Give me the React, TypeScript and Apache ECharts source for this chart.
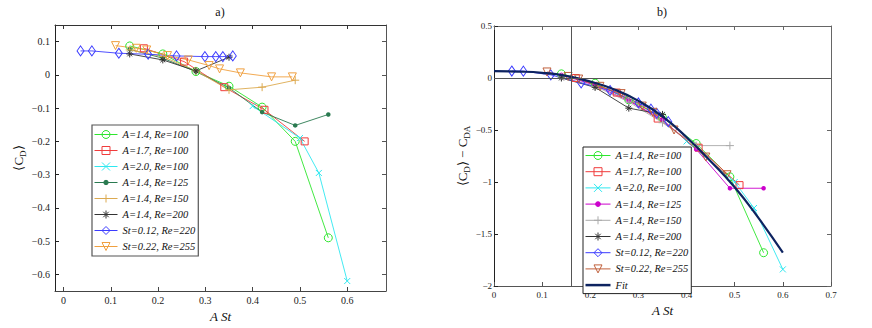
import React, { useEffect, useRef } from 'react';
import * as echarts from 'echarts';

// ---------- tick labels ----------
const leftXTicks = [0, 0.1, 0.2, 0.3, 0.4, 0.5, 0.6];
const leftYTicks = [-0.6, -0.5, -0.4, -0.3, -0.2, -0.1, 0, 0.1];

// ---------- legend names ----------
const names = [
  'A=1.4, Re=100',
  'A=1.7, Re=100',
  'A=2.0, Re=100',
  'A=1.4, Re=125',
  'A=1.4, Re=150',
  'A=1.4, Re=200',
  'St=0.12, Re=220',
  'St=0.22, Re=255',
];
const fitName = 'Fit';

// ---------- panel a) : <C_D> vs A St ----------
const a14re100L = [[0.14, 0.087], [0.21, 0.063], [0.28, 0.01], [0.35, -0.034], [0.42, -0.097], [0.49, -0.2], [0.56, -0.49]];
const a17re100L = [[0.17, 0.08], [0.255, 0.04], [0.34, -0.037], [0.425, -0.105], [0.51, -0.2]];
const a20re100L = [[0.4, -0.094], [0.5, -0.19], [0.54, -0.295], [0.6, -0.62]];
const a14re125L = [[0.14, 0.077], [0.21, 0.05], [0.28, 0.01], [0.35, -0.039], [0.42, -0.112], [0.49, -0.152], [0.56, -0.119]];
const a14re150L = [[0.14, 0.075], [0.21, 0.055], [0.28, 0.012], [0.35, -0.045], [0.42, -0.037], [0.49, -0.016]];
const a14re200L = [[0.14, 0.063], [0.21, 0.045], [0.28, 0.012], [0.35, 0.053]];
const st12re220L = [[0.036, 0.072], [0.06, 0.072], [0.117, 0.065], [0.179, 0.062], [0.239, 0.057], [0.299, 0.055], [0.322, 0.055], [0.337, 0.055], [0.358, 0.057]];
const st22re255L = [[0.11, 0.088], [0.154, 0.08], [0.176, 0.075], [0.22, 0.058], [0.264, 0.045], [0.308, 0.028], [0.33, 0.018], [0.374, 0.006], [0.44, -0.006], [0.484, -0.006]];

// ---------- panel b) : <C_D> - C_DA vs A St ----------
const a14re100R = [[0.14, 0.04], [0.21, -0.05], [0.28, -0.21], [0.35, -0.38], [0.42, -0.63], [0.49, -0.95], [0.56, -1.68]];
const a17re100R = [[0.17, 0.0], [0.255, -0.14], [0.34, -0.39], [0.425, -0.67], [0.51, -1.03]];
const a20re100R = [[0.4, -0.61], [0.5, -1.0], [0.54, -1.25], [0.6, -1.84]];
const a14re125R = [[0.14, 0.03], [0.21, -0.07], [0.28, -0.22], [0.35, -0.4], [0.42, -0.685], [0.49, -1.06], [0.56, -1.06]];
const a14re150R = [[0.14, 0.01], [0.21, -0.08], [0.28, -0.23], [0.35, -0.43], [0.42, -0.65], [0.49, -0.65]];
const a14re200R = [[0.14, 0.0], [0.21, -0.09], [0.28, -0.29], [0.35, -0.35]];
const st12re220R = [[0.037, 0.067], [0.061, 0.066], [0.118, 0.03], [0.181, -0.048], [0.241, -0.12], [0.3, -0.24], [0.326, -0.3], [0.338, -0.34], [0.362, -0.42]];
const st22re255R = [[0.11, 0.058], [0.154, 0.015], [0.176, -0.01], [0.22, -0.08], [0.264, -0.15], [0.308, -0.27], [0.33, -0.33], [0.374, -0.5], [0.44, -0.76], [0.484, -0.93]];
const fitR = [[0, 0.066], [0.05, 0.062], [0.1, 0.05], [0.15, 0.02], [0.2, -0.035], [0.25, -0.11], [0.3, -0.22], [0.35, -0.37], [0.4, -0.57], [0.45, -0.8], [0.5, -1.05], [0.55, -1.35], [0.6, -1.68]];

const leftSets = [a14re100L, a17re100L, a20re100L, a14re125L, a14re150L, a14re200L, st12re220L, st22re255L];
const rightSets = [a14re100R, a17re100R, a20re100R, a14re125R, a14re150R, a14re200R, st12re220R, st22re255R];

// ---------- styles ----------
const CROSS = 'path://M0,0L10,10M10,0L0,10';
const PLUS = 'path://M5,0L5,10M0,5L10,5';
const STAR = 'path://M5,0L5,10M0,5L10,5M1.6,1.6L8.4,8.4M8.4,1.6L1.6,8.4';
const TRI = 'path://M0,0L10,0L5,8.66Z';
const DOT_LEGEND = 'path://M0,5L23,5M13.7,5A2.2,2.2,0,1,1,9.3,5A2.2,2.2,0,1,1,13.7,5Z';
const FIT_LEGEND = 'path://M0,0L26,0L26,2.6L0,2.6Z';

const markers: any[] = [
  { symbol: 'circle', size: 8, filled: false },
  { symbol: 'rect', size: 7, filled: false },
  { symbol: CROSS, size: 6, filled: false },
  { symbol: 'circle', size: 4.5, filled: true },
  { symbol: PLUS, size: 8, filled: false },
  { symbol: STAR, size: 7, filled: false },
  { symbol: 'diamond', size: [7, 10], filled: false },
  { symbol: TRI, size: 8, filled: false },
];
const leftColors = ['#2ee62e', '#f03c3c', '#2ee8f0', '#2a7a50', '#dcaa50', '#333333', '#3c3cff', '#f0a040'];
const rightColors = ['#2ee62e', '#f03c3c', '#2ee8f0', '#cc00cc', '#aaaaaa', '#333333', '#3c3cff', '#c0603c'];
const fitColor = '#0d2360';

const SERIF = 'Liberation Serif';
const ZW = '\u200b';

const fmt = (v: number) => String(parseFloat(v.toFixed(2))).replace('-', '\u2212');

function mk(name: string, data: number[][], color: string, m: any, xi: number, yi: number) {
  return {
    type: 'line',
    name,
    data,
    xAxisIndex: xi,
    yAxisIndex: yi,
    symbol: m.symbol,
    symbolSize: m.size,
    lineStyle: { color, width: 0.9 },
    itemStyle: {
      color: m.filled ? color : 'rgba(255,255,255,0)',
      borderColor: color,
      borderWidth: m.filled ? 0 : 1,
    },
    emphasis: { disabled: true },
    z: 3,
  };
}

function axisX(grid: number, min: number, max: number, pos: string, ticks: any, showLabel: boolean, lineColor: string, fontSize: number) {
  const tickOpt: any = { show: true, inside: true, length: 4, lineStyle: { color: lineColor } };
  const labelOpt: any = { show: showLabel, margin: 4, fontFamily: SERIF, fontSize, color: '#222', formatter: fmt };
  const o: any = {
    gridIndex: grid,
    type: 'value',
    min,
    max,
    position: pos,
    axisLine: { show: true, onZero: false, lineStyle: { color: lineColor, width: 1 } },
    axisTick: tickOpt,
    axisLabel: labelOpt,
    splitLine: { show: false },
  };
  if (Array.isArray(ticks)) {
    tickOpt.customValues = ticks;
    labelOpt.customValues = ticks;
  } else {
    o.interval = ticks;
  }
  if (showLabel) {
    o.name = 'A St';
    o.nameLocation = 'middle';
    o.nameGap = 16;
    o.nameTextStyle = { fontFamily: SERIF, fontStyle: 'italic', fontSize: 13, color: '#111' };
  }
  return o;
}

function axisY(grid: number, min: number, max: number, pos: string, ticks: any, showLabel: boolean, lineColor: string, fontSize: number, margin: number, name?: string, nameGap?: number) {
  const tickOpt: any = { show: true, inside: true, length: 4, lineStyle: { color: lineColor } };
  const labelOpt: any = { show: showLabel, margin, fontFamily: SERIF, fontSize, color: '#222', formatter: fmt };
  const o: any = {
    gridIndex: grid,
    type: 'value',
    min,
    max,
    position: pos,
    axisLine: { show: true, onZero: false, lineStyle: { color: lineColor, width: 1 } },
    axisTick: tickOpt,
    axisLabel: labelOpt,
    splitLine: { show: false },
  };
  if (Array.isArray(ticks)) {
    tickOpt.customValues = ticks;
    labelOpt.customValues = ticks;
  } else {
    o.interval = ticks;
  }
  if (name) {
    o.name = name;
    o.nameLocation = 'middle';
    o.nameGap = nameGap;
    o.nameRotate = 90;
    o.nameTextStyle = {
      rich: {
        a: { fontFamily: SERIF, fontSize: 13, lineHeight: 18, color: '#111' },
        s: { fontFamily: SERIF, fontSize: 9, lineHeight: 10, verticalAlign: 'bottom', color: '#111' },
      },
    };
  }
  return o;
}

const legendBase = {
  orient: 'vertical',
  itemWidth: 23,
  itemHeight: 10,
  itemGap: 5,
  backgroundColor: '#ffffff',
  selectedMode: false,
  textStyle: { fontFamily: SERIF, fontStyle: 'italic', fontSize: 10.5, color: '#111' },
  itemStyle: { borderWidth: 1 },
  lineStyle: { width: 1 },
  borderRadius: 0,
};

export default function App() {
  const ref = useRef<HTMLDivElement>(null);
  useEffect(() => {
    if (!ref.current) return;
    const chart = echarts.init(ref.current, undefined, { renderer: 'svg' });
    const rightNames = names.map((n) => n + ZW);

    const series: any[] = [];
    leftSets.forEach((d, i) => series.push(mk(names[i], d, leftColors[i], markers[i], 0, 0)));
    rightSets.forEach((d, i) => series.push(mk(rightNames[i], d, rightColors[i], markers[i], 2, 2)));
    // reference lines of panel b)
    series[8].markLine = {
      silent: true,
      symbol: ['none', 'none'],
      label: { show: false },
      lineStyle: { color: '#555', width: 1, type: 'solid' },
      data: [{ yAxis: 0 }, { xAxis: 0.16 }],
      animation: false,
    };
    series.push({
      type: 'line',
      name: fitName,
      data: fitR,
      xAxisIndex: 2,
      yAxisIndex: 2,
      symbol: 'none',
      smooth: true,
      lineStyle: { color: fitColor, width: 2.2 },
      itemStyle: { color: fitColor },
      emphasis: { disabled: true },
      z: 4,
    });

    const legendItems = (list: string[]) =>
      list.map((n, i) => (markers[i].filled ? { name: n, icon: DOT_LEGEND } : n));

    const option: any = {
      animation: false,
      backgroundColor: '#ffffff',
      grid: [
        { left: 55, top: 25, width: 331, height: 266 },
        { left: 494, top: 26, width: 337, height: 260 },
      ],
      xAxis: [
        axisX(0, -0.018, 0.682, 'bottom', leftXTicks, true, '#444', 10),
        axisX(0, -0.018, 0.682, 'top', leftXTicks, false, '#333', 10),
        axisX(1, 0, 0.7, 'bottom', 0.1, true, '#555', 9),
        axisX(1, 0, 0.7, 'top', 0.1, false, '#666', 9),
      ],
      yAxis: [
        axisY(0, -0.65, 0.15, 'left', leftYTicks, true, '#222', 10, 5, '{a|⟨C}{s|D}{a|⟩}', 27),
        axisY(0, -0.65, 0.15, 'right', leftYTicks, false, '#555', 10, 5),
        axisY(1, -2, 0.5, 'left', 0.5, true, '#222', 9, 2, '{a|⟨C}{s|D}{a|⟩ − C}{s|DA}', 15),
        axisY(1, -2, 0.5, 'right', 0.5, false, '#666', 9, 2),
      ],
      legend: [
        {
          ...legendBase,
          data: legendItems(names),
          left: 92,
          top: 125,
          padding: [4, 3, 4, 2],
          borderColor: '#555',
          borderWidth: 1.2,
        },
        {
          ...legendBase,
          data: [...legendItems(rightNames), { name: fitName, icon: FIT_LEGEND }],
          left: 583,
          top: 147,
          itemWidth: 25,
          itemGap: 5.2,
          padding: [3, 3, 3, 2],
          borderColor: '#222',
          borderWidth: 1,
          formatter: (n: string) => n.replace(/\u200b/g, ''),
        },
      ],
      graphic: [
        { type: 'text', x: 220, y: 12, style: { text: 'a)', align: 'center', verticalAlign: 'middle', fontFamily: SERIF, fontSize: 12, fill: '#111' } },
        { type: 'text', x: 662, y: 12, style: { text: 'b)', align: 'center', verticalAlign: 'middle', fontFamily: SERIF, fontSize: 12, fill: '#111' } },
      ],
      series,
    };
    chart.setOption(option);
    return () => chart.dispose();
  }, []);

  return (
    <div
      ref={ref}
      style={{ position: 'absolute', left: 0, top: 0, width: 872, height: 328, background: '#fff' }}
    />
  );
}
